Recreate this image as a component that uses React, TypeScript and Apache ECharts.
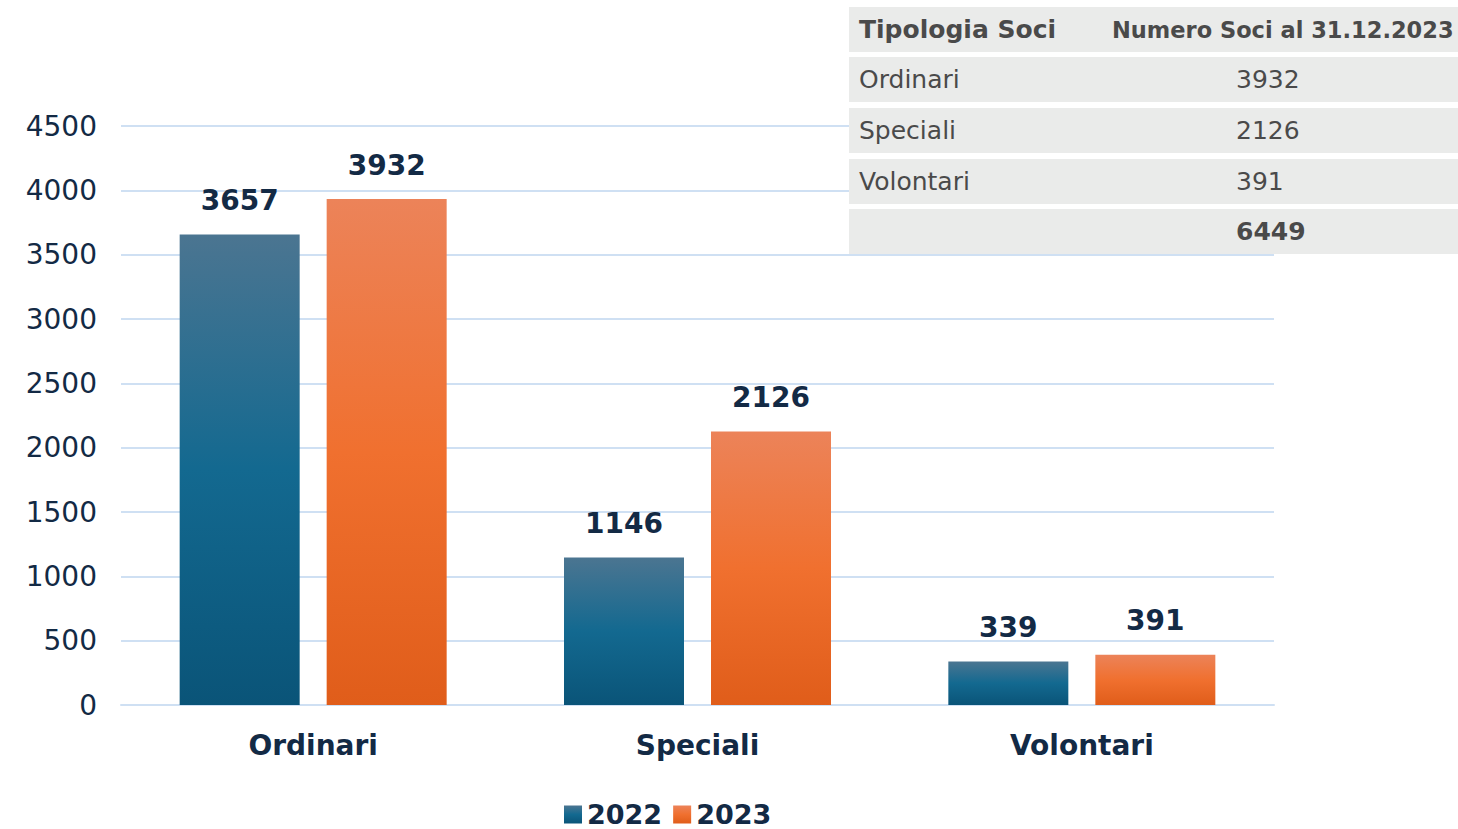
import React, { useEffect, useRef } from "react";
import * as echarts from "echarts";

const categories = ["Ordinari", "Speciali", "Volontari"];
const values2022 = [3657, 1146, 339];
const values2023 = [3932, 2126, 391];
const seriesNames = ["2022", "2023"];
const tableHeader = ["Tipologia Soci", "Numero Soci al 31.12.2023"];
const tableRows = [
  ["Ordinari", "3932"],
  ["Speciali", "2126"],
  ["Volontari", "391"],
];
const tableTotal = "6449";

const FONT = "DejaVu Sans";
const NAVY = "#132a45";

export default function App() {
  const ref = useRef<HTMLDivElement>(null);
  useEffect(() => {
    document.body.style.margin = "0";
    const chart = echarts.init(ref.current!, null, { renderer: "svg" });
    const blue = new echarts.graphic.LinearGradient(0, 0, 0, 1, [
      { offset: 0, color: "#4b7591" },
      { offset: 0.5, color: "#136990" },
      { offset: 1, color: "#0a5478" },
    ]);
    const orange = new echarts.graphic.LinearGradient(0, 0, 0, 1, [
      { offset: 0, color: "#ec8359" },
      { offset: 0.5, color: "#f0702f" },
      { offset: 1, color: "#e05d1a" },
    ]);
    const rowTops = [7, 57, 108, 159, 209];
    const rowH = 45;
    const graphics: any[] = [];
    rowTops.forEach((t) => {
      graphics.push({
        type: "rect",
        shape: { x: 849, y: t, width: 620, height: rowH },
        style: { fill: "#eaebea" },
        z: 100,
      });
    });
    const textStyle = (bold: boolean, size = 25) => ({
      fill: "#4a4a4a",
      font: `${bold ? "bold " : ""}${size}px "${FONT}"`,
      verticalAlign: "middle",
    });
    graphics.push({
      type: "text", x: 859, y: rowTops[0] + rowH / 2, z: 101,
      style: { ...textStyle(true), text: tableHeader[0] },
    });
    graphics.push({
      type: "text", x: 1112, y: rowTops[0] + rowH / 2, z: 101,
      style: { ...textStyle(true, 22.5), text: tableHeader[1] },
    });
    tableRows.forEach((r, i) => {
      graphics.push({
        type: "text", x: 859, y: rowTops[i + 1] + rowH / 2, z: 101,
        style: { ...textStyle(false), text: r[0] },
      });
      graphics.push({
        type: "text", x: 1236, y: rowTops[i + 1] + rowH / 2, z: 101,
        style: { ...textStyle(false), text: r[1] },
      });
    });
    graphics.push({
      type: "text", x: 1236, y: rowTops[4] + rowH / 2, z: 101,
      style: { ...textStyle(true), text: tableTotal },
    });

    const labelCfg = {
      show: true,
      position: "top",
      distance: 20,
      color: NAVY,
      fontFamily: FONT,
      fontWeight: "bold",
      fontSize: 28,
    };

    chart.setOption({
      animation: false,
      grid: { left: 121, right: 184, top: 126, bottom: 124, containLabel: false },
      legend: {
        data: seriesNames,
        left: 564,
        top: 801,
        padding: 0,
        icon: "rect",
        itemWidth: 18,
        itemHeight: 18,
        itemGap: 11,
        textStyle: {
          color: NAVY,
          fontFamily: FONT,
          fontWeight: "bold",
          fontSize: 27,
          lineHeight: 24,
        },
      },
      xAxis: {
        type: "category",
        data: categories,
        axisLine: { show: true, lineStyle: { color: "#cfe0f3", width: 2 } },
        axisTick: { show: false },
        axisLabel: { color: NAVY, fontFamily: FONT, fontWeight: "bold", fontSize: 28, margin: 26 },
      },
      yAxis: {
        type: "value",
        min: 0,
        max: 4500,
        interval: 500,
        axisLine: { show: false },
        axisTick: { show: false },
        splitLine: { lineStyle: { color: "#cfe0f3", width: 2 } },
        axisLabel: {
          color: NAVY,
          fontFamily: FONT,
          fontSize: 28,
          margin: 24,
          formatter: (v: number) => String(v),
        },
      },
      series: [
        {
          name: seriesNames[0],
          type: "bar",
          data: values2022,
          barWidth: 120,
          barGap: "22.5%",
          itemStyle: { color: blue },
          label: labelCfg,
        },
        {
          name: seriesNames[1],
          type: "bar",
          data: values2023,
          barWidth: 120,
          barGap: "22.5%",
          itemStyle: { color: orange },
          label: labelCfg,
        },
      ],
      graphic: graphics,
    });
    return () => chart.dispose();
  }, []);
  return <div ref={ref} style={{ width: 1458, height: 829 }} />;
}
